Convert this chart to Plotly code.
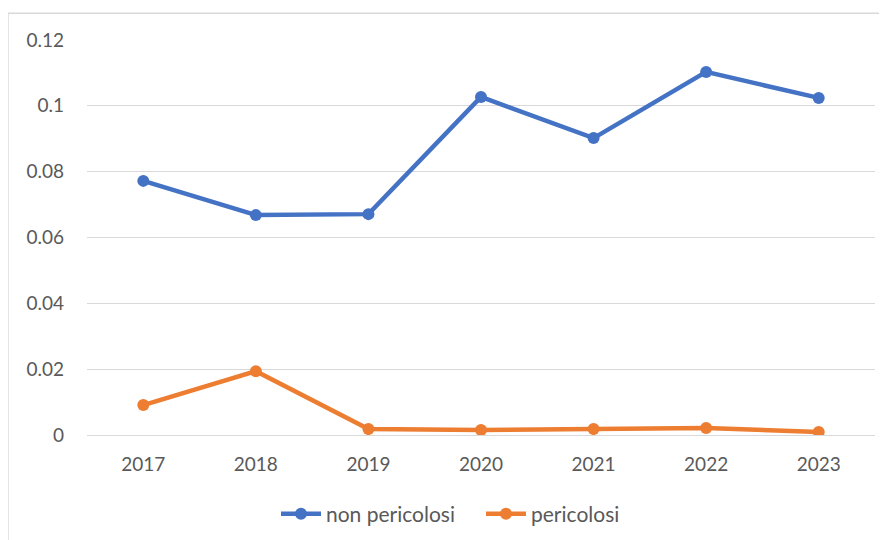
"""Line chart: non pericolosi vs pericolosi, 2017-2023."""

import plotly.graph_objects as go

years = ["2017", "2018", "2019", "2020", "2021", "2022", "2023"]
non_pericolosi = [0.0772, 0.0668, 0.0671, 0.1027, 0.0902, 0.1103, 0.1024]
pericolosi = [0.0091, 0.0194, 0.0018, 0.0015, 0.0018, 0.0021, 0.0009]
y_ticks = [0, 0.02, 0.04, 0.06, 0.08, 0.1, 0.12]

FONT = "Lato, 'Open Sans', sans-serif"
GREY_TEXT = "#595959"
GRID = "#d9d9d9"

fig = go.Figure()
series = [
    ("non pericolosi", non_pericolosi, "#4472C4"),
    ("pericolosi", pericolosi, "#ED7D31"),
]
for name, values, color in series:
    fig.add_trace(
        go.Scatter(
            x=years,
            y=values,
            mode="lines+markers",
            name=name,
            line={"color": color, "width": 4.5},
            marker={"color": color, "size": 12},
        )
    )

# page body has an 8px margin, so the figure is 8px smaller than the window
fig.update_layout(
    width=879,
    height=532,
    paper_bgcolor="white",
    plot_bgcolor="white",
    margin={"l": 79, "r": 12, "t": 32, "b": 105, "autoexpand": False},
    font={"family": FONT, "size": 19, "color": GREY_TEXT},
    showlegend=True,
    legend={
        "orientation": "h",
        "x": 0.5,
        "xanchor": "center",
        "y": -0.2,
        "yanchor": "middle",
        "font": {"size": 21, "color": GREY_TEXT},
        "itemwidth": 40,
        "entrywidth": 150,
    },
    shapes=[
        {
            "type": "rect",
            "xref": "paper",
            "yref": "paper",
            "x0": -0.1003,
            "x1": 1.1,
            "y0": -0.5,
            "y1": 1.068,
            "line": {"color": "#d9d9d9", "width": 1.5},
            "layer": "below",
        }
    ],
)
fig.update_xaxes(
    type="category",
    range=[-0.5, 6.5],
    automargin=False,
    showgrid=False,
    showline=False,
    ticks="",
    ticklabelstandoff=16,
    tickfont={"size": 19, "color": GREY_TEXT},
)
fig.update_yaxes(
    range=[0, 0.12],
    tickvals=y_ticks,
    automargin=False,
    showgrid=True,
    gridcolor=GRID,
    gridwidth=1.2,
    zeroline=True,
    zerolinecolor=GRID,
    zerolinewidth=1.2,
    showline=False,
    ticks="",
    ticklabelstandoff=22,
    tickfont={"size": 19, "color": GREY_TEXT},
)

fig.write_html("out.html")
